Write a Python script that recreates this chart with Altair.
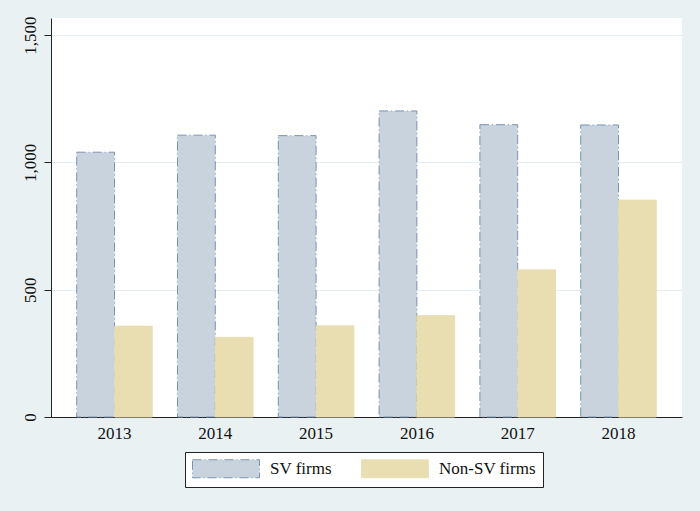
import altair as alt
import pandas as pd

years = ["2013", "2014", "2015", "2016", "2017", "2018"]
sv_firms = [1040, 1107, 1105, 1202, 1148, 1147]
non_sv_firms = [357, 313, 358, 398, 578, 852]
series = ["SV firms", "Non-SV firms"]
y_ticks = [0, 500, 1000, 1500]

rows = []
for i, yr in enumerate(years):
    rows.append({"year": yr, "series": series[0], "value": sv_firms[i]})
    rows.append({"year": yr, "series": series[1], "value": non_sv_firms[i]})
df = pd.DataFrame(rows)

FONT = "Liberation Serif"
BG = "#e9f1f3"

legend = alt.Legend(
    title=None,
    orient="none",
    direction="horizontal",
    legendX=134,
    legendY=434,
    padding=7,
    fillColor="white",
    strokeColor="#222222",
    symbolType="M-1,-1H6.444V1H-1Z",
    symbolSize=324,
    symbolStrokeWidth=1,
    labelFont=FONT,
    labelFontSize=17,
    labelColor="#111111",
    labelOffset=59,
    columnPadding=27,
)

chart = (
    alt.Chart(df)
    .mark_bar(strokeWidth=1)
    .encode(
        x=alt.X(
            "year:N",
            sort=years,
            scale=alt.Scale(paddingInner=0.25, paddingOuter=0.255),
            axis=alt.Axis(
                title=None,
                labelAngle=0,
                ticks=False,
                labelFont=FONT,
                labelFontSize=17,
                labelColor="#111111",
                labelPadding=8,
                domainColor="#222222",
                domainWidth=1,
                grid=False,
            ),
        ),
        xOffset=alt.XOffset("series:N", sort=series, scale=alt.Scale(paddingInner=0, paddingOuter=0)),
        y=alt.Y(
            "value:Q",
            scale=alt.Scale(domain=[0, 1567], nice=False, zero=True),
            axis=alt.Axis(
                title=None,
                values=y_ticks,
                format=",.0f",
                labelAngle=-90,
                labelAlign="center",
                labelBaseline="bottom",
                labelFont=FONT,
                labelFontSize=17,
                labelColor="#111111",
                labelPadding=5,
                tickSize=7,
                tickColor="#222222",
                domainColor="#222222",
                domainWidth=1,
                grid=True,
                gridColor="#e4edf1",
                gridWidth=1,
            ),
        ),
        fill=alt.Fill(
            "series:N",
            sort=series,
            scale=alt.Scale(domain=series, range=["#c8d3dd", "#e8deb2"]),
            legend=legend,
        ),
        stroke=alt.Stroke(
            "series:N",
            sort=series,
            scale=alt.Scale(domain=series, range=["#7b93b3", "#e8deb2"]),
            legend=legend,
        ),
        strokeDash=alt.StrokeDash(
            "series:N",
            sort=series,
            scale=alt.Scale(domain=series, range=[[9, 3, 1, 3], [1, 0]]),
            legend=legend,
        ),
    )
    .properties(
        width=631,
        height=399,
        autosize=alt.AutoSizeParams(type="none"),
        padding={"left": 51, "top": 18, "right": 18, "bottom": 94},
        background=BG,
    )
    .configure_view(fill="white", stroke=None)
    .configure_legend(strokeWidth=1, cornerRadius=0)
)

chart.save("out.html", embed_options={"renderer": "svg", "actions": False})
